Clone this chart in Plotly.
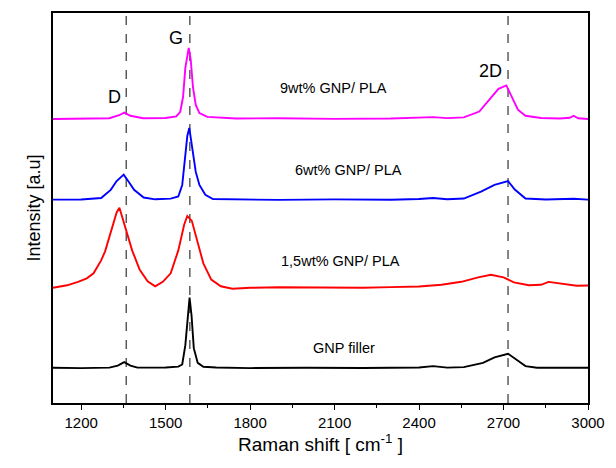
import plotly.graph_objects as go

# Raman spectra (arbitrary intensity units, offset per sample)
filler_x = [1100, 1200, 1300, 1330, 1353, 1375, 1400, 1500, 1545, 1559, 1570, 1578, 1585, 1592, 1600,
            1614, 1634, 1680, 1800, 2000, 2200, 2400, 2450, 2500, 2559, 2627, 2668, 2716, 2744, 2778,
            2819, 2900, 3000]
filler_y = [35.3, 35.0, 35.5, 37.5, 40.9, 37.5, 35.5, 35.6, 36.5, 38.6, 58, 87.7, 105.7, 87.7, 55,
            40.2, 36.3, 35.6, 35.0, 35.4, 35.1, 35.6, 37.0, 35.5, 36.0, 40.2, 45.8, 49.4, 43.5, 37.0,
            35.3, 35.4, 35.3]

pla15_x = [1100, 1150, 1189, 1220, 1244, 1271, 1285, 1299, 1326, 1336, 1353, 1381, 1408, 1436, 1463,
           1490, 1518, 1545, 1566, 1577, 1593, 1614, 1634, 1662, 1696, 1737, 1800, 1900, 2000, 2100,
           2200, 2300, 2400, 2480, 2550, 2610, 2655, 2700, 2737, 2790, 2833, 2860, 2900, 2960, 3000]
pla15_y = [115.5, 118.0, 121.4, 125.0, 130.0, 143.0, 152.0, 166.0, 191.0, 195.7, 179.0, 153.0, 133.5,
           122.0, 117.0, 121.5, 130.0, 153.0, 179.0, 187.5, 182.6, 159.7, 140.0, 123.7, 117.0, 114.5,
           115.5, 116.0, 115.8, 116.3, 115.6, 116.2, 116.8, 118.5, 121.5, 126.0, 128.6, 126.0, 121.0,
           118.0, 118.5, 121.4, 120.0, 117.5, 117.8]

pla6_x = [1100, 1200, 1271, 1305, 1326, 1351, 1367, 1388, 1422, 1463, 1518, 1545, 1559, 1570, 1577,
          1584, 1593, 1607, 1620, 1641, 1668, 1750, 1900, 2100, 2300, 2400, 2450, 2500, 2559, 2620,
          2668, 2716, 2740, 2778, 2850, 2950, 3000]
pla6_y = [203.9, 204.0, 205.5, 213.7, 222.5, 229.0, 222.5, 213.7, 206.0, 204.2, 204.9, 207.0, 218.6,
          248.0, 267.7, 275.8, 257.9, 231.7, 218.6, 208.8, 204.5, 204.0, 203.6, 204.1, 203.8, 204.5,
          205.5, 204.3, 205.0, 212.0, 218.6, 222.5, 214.0, 205.0, 204.0, 204.8, 203.9]

pla9_x = [1100, 1200, 1300, 1335, 1353, 1375, 1420, 1500, 1538, 1552, 1562, 1570, 1577, 1582, 1589,
          1597, 1607, 1620, 1648, 1750, 1900, 2100, 2300, 2400, 2450, 2500, 2559, 2614, 2655, 2682,
          2710, 2730, 2751, 2778, 2833, 2900, 2935, 2949, 2965, 3000]
pla9_y = [284.7, 285.0, 285.5, 288.5, 291.2, 288.0, 285.5, 285.8, 287.3, 292.0, 307.0, 336.0, 351.0,
          356.0, 344.6, 317.0, 298.8, 290.6, 286.8, 285.2, 285.5, 284.9, 285.3, 285.8, 286.6, 285.6,
          286.3, 292.2, 305.3, 315.0, 318.4, 307.0, 294.0, 288.0, 285.7, 285.2, 286.0, 288.0, 285.5,
          284.7]

series_names = ["GNP filler", "1,5wt% GNP/ PLA", "6wt% GNP/ PLA", "9wt% GNP/ PLA"]
series_colors = ["#000000", "#ff0000", "#0000ff", "#ff00ff"]
series_x = [filler_x, pla15_x, pla6_x, pla9_x]
series_y = [filler_y, pla15_y, pla6_y, pla9_y]

# Sample labels placed above each spectrum
label_x = [2134, 2121, 2148, 2096]
label_y = [55.6, 142.0, 233.8, 315.6]

# Band positions marked with dashed lines, and their names
band_pos = [1360, 1586, 2716]
band_names = ["D", "G", "2D"]
band_label_x = [1319, 1536, 2652]
band_label_y = [307, 366, 333]

x_ticks = [1200, 1500, 1800, 2100, 2400, 2700, 3000]

FONT = "Liberation Sans, Arial"

fig = go.Figure()
for name, color, xs, ys in zip(series_names, series_colors, series_x, series_y):
    fig.add_trace(go.Scatter(x=xs, y=ys, mode="lines", name=name,
                             line=dict(color=color, width=1.9), showlegend=False))

for bx in band_pos:
    fig.add_shape(type="line", x0=bx, x1=bx, xref="x", y0=0, y1=1, yref="paper",
                  line=dict(color="#333333", width=1.2, dash="dash"), layer="below")

for name, lx, ly in zip(series_names, label_x, label_y):
    fig.add_annotation(x=lx, y=ly, text=name, showarrow=False,
                       font=dict(size=14.5, color="#000000", family=FONT))

for name, lx, ly in zip(band_names, band_label_x, band_label_y):
    fig.add_annotation(x=lx, y=ly, text=name, showarrow=False,
                       font=dict(size=18, color="#000000", family=FONT))

fig.update_layout(
    width=616, height=468,
    margin=dict(l=53, r=18, t=11, b=65),
    paper_bgcolor="white", plot_bgcolor="white",
    font=dict(family=FONT, color="#000000"),
    xaxis=dict(range=[1100, 3000], tickvals=x_ticks, ticks="outside", ticklen=5,
               tickwidth=1.2, tickcolor="#000000",
               minor=dict(dtick=150, tick0=1200, ticks="outside", ticklen=3, tickcolor="#000000"),
               showline=True, linecolor="#000000", linewidth=1.5, mirror=True,
               showgrid=False, zeroline=False, tickfont=dict(size=15),
               title=dict(text="Raman shift [ cm<sup>-1</sup> ]", font=dict(size=19), standoff=8)),
    yaxis=dict(range=[0, 391], showticklabels=False, ticks="", showgrid=False, zeroline=False,
               showline=True, linecolor="#000000", linewidth=1.5, mirror=True,
               title=dict(text="Intensity [a.u]", font=dict(size=18), standoff=6)),
)

fig.write_html("out.html")
